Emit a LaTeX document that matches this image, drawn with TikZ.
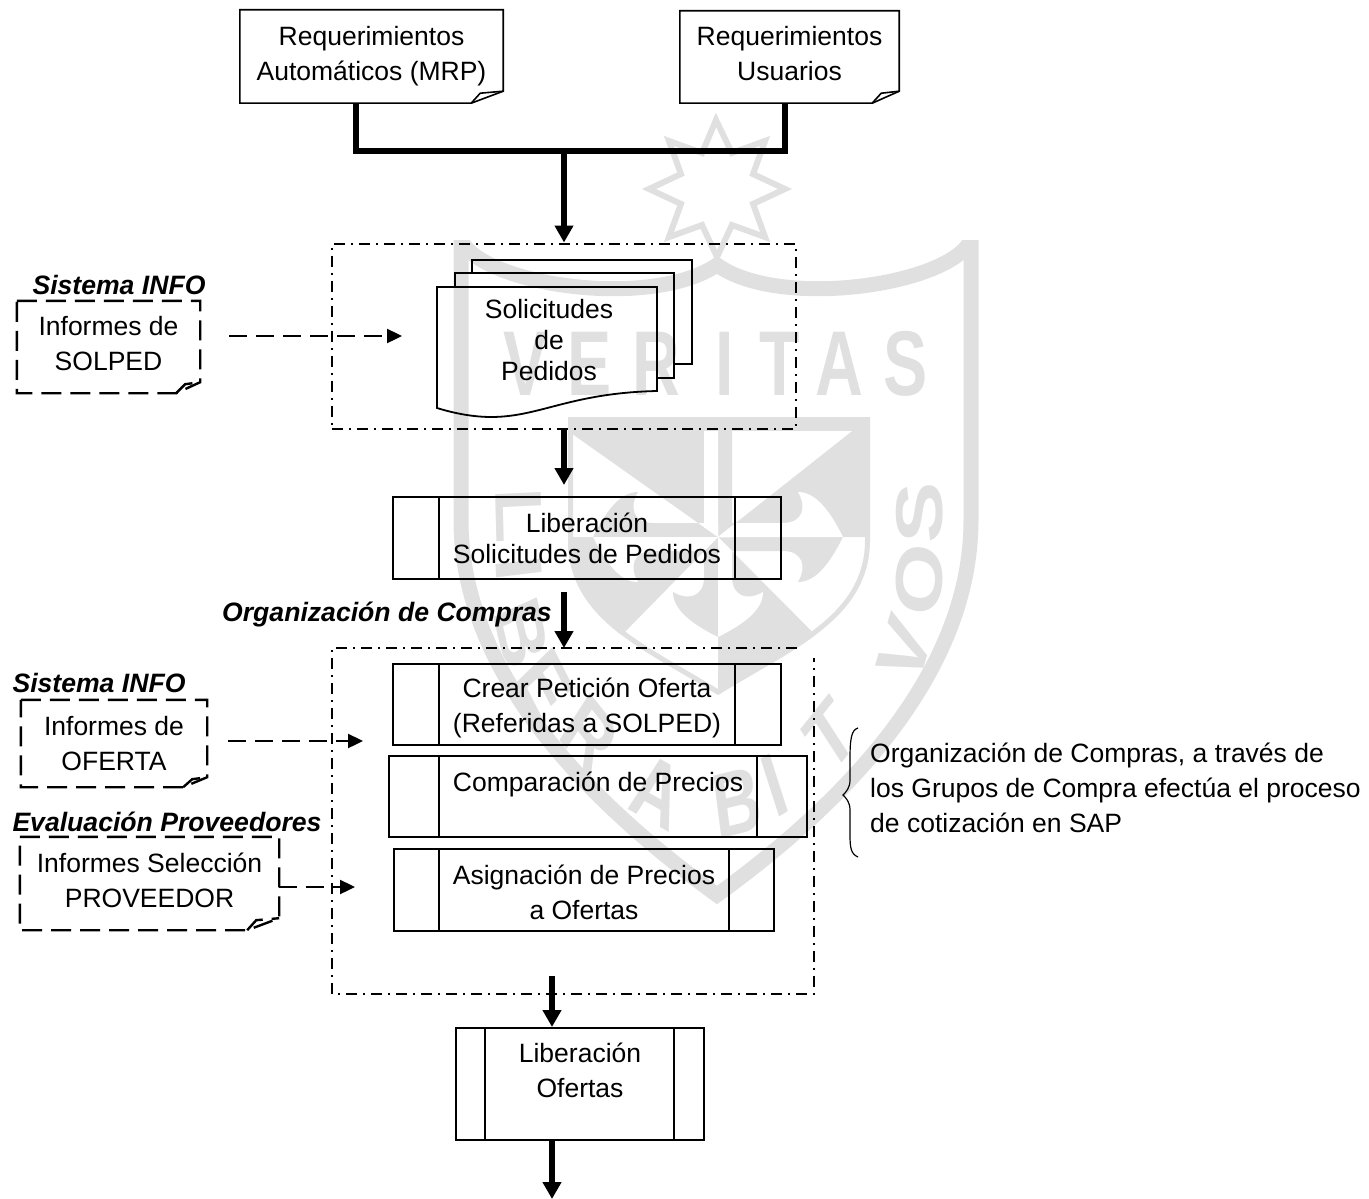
\documentclass[tikz,border=0pt]{standalone}
\usepackage{fontspec}
\setmainfont{Liberation Sans}
\usetikzlibrary{arrows.meta}
\definecolor{marca}{gray}{0.88}
\tikzset{
    textbox/.style={align=center,inner sep=0pt,font=\fontsize{26.5}{35}\selectfont},
    procbox/.style={textbox,draw,line width=2pt},
    titulo/.style={inner sep=0pt,font=\fontsize{26.6}{30}\selectfont\bfseries\itshape},
    letra/.style={marca,inner sep=0pt,font=\fontsize{92}{92}\selectfont\bfseries,xscale=.72},
    mainline/.style={line width=5.5pt,-{Triangle[length=17pt,width=18pt]}},
    dasharrow/.style={line width=2.4pt,dash pattern=on 18pt off 9pt,-{Triangle[length=15pt,width=14pt]}},
    dashdot/.style={line width=2pt,dash pattern=on 11pt off 6pt on 2pt off 6pt},
    docdash/.style={line width=2.4pt,dash pattern=on 20pt off 9pt}
}
% outline of a document with folded corner
\newcommand{\docoutline}[4][]{
    \draw[line width=1.6pt,#1] (#2.north west) -- (#2.north east) -- ([yshift=#4]#2.south east) -- ([xshift=-#3]#2.south east) -- (#2.south west) -- cycle;
    \draw[line width=1.6pt,#1] ([xshift=-#3]#2.south east) -- ([xshift=-#3+9,yshift=#4-2]#2.south east) -- ([yshift=#4]#2.south east);
}
% inner bars of a process box
\newcommand{\procbars}[3]{
    \draw[line width=2pt] ([xshift=#2]#1.north west) -- ([xshift=#2]#1.south west);
    \draw[line width=2pt] ([xshift=-#3]#1.north east) -- ([xshift=-#3]#1.south east);
}
% the four arms of the cross in the mark
\newcommand{\fleurcross}[1]{
    \foreach \rr/\dd in {0/100,90/125,180/178,270/125}
        \fill[#1,shift={(718,537)},rotate=\rr] (0,\dd) .. controls (-28,\dd-14) and (-45,\dd-28) .. (-45,\dd-45) .. controls (-30,\dd-36) and (-14,\dd-40) .. (-14,\dd-60) -- (-14,0) -- (14,0) -- (14,\dd-60) .. controls (14,\dd-40) and (30,\dd-36) .. (45,\dd-45) .. controls (45,\dd-28) and (28,\dd-14) .. (0,\dd) -- cycle;
}
\begin{document}
\begin{tikzpicture}[x=1pt,y=-1pt]
            \useasboundingbox (0,0) rectangle (1369,1199);
            % background mark
            \draw[marca,line width=6pt,line join=miter] (716,120) \foreach \a in {-67.5,-45,...,247.5} {-- ({717+(mod(\a+90,45)==0 ? 68 : 39)*cos(\a)},{189+(mod(\a+90,45)==0 ? 68 : 39)*sin(\a)})} -- cycle;
            \begin{scope}
                \clip (0,240) rectangle (1369,1199);
                \draw[marca,line width=15pt] (971,230) -- (971,240) .. controls (950,285) and (780,310) .. (717,265) .. controls (650,310) and (482,285) .. (461,240) -- (461,520) .. controls (461,680) and (600,810) .. (717,895) .. controls (834,810) and (971,680) .. (971,520) -- (971,240);
                \draw[marca,line width=15pt] (461,230) -- (461,250);
            \end{scope}
            \begin{scope}
                \clip (568,417) -- (870,417) -- (870,540) .. controls (870,620) and (790,650) .. (718,695) .. controls (646,650) and (568,620) .. (568,540) -- cycle;
                \fill[marca] (568,417) rectangle (870,431);
                \fill[marca] (568,431) -- (718,431) -- (718,537) -- cycle;
                \fill[marca] (870,417) -- (870,537) -- (718,537) -- cycle;
                \fill[marca] (718,537) -- (870,690) -- (718,700) -- cycle;
                \fill[marca] (568,690) -- (568,537) -- (718,537) -- cycle;
                \fleurcross{marca}
                \begin{scope}
                    \clip (568,431) -- (718,431) -- (718,537) -- cycle (870,417) -- (870,537) -- (718,537) -- cycle (718,537) -- (870,690) -- (718,700) -- cycle (568,690) -- (568,537) -- (718,537) -- cycle;
                    \fleurcross{white}
                \end{scope}
                \draw[marca,line width=10pt] (568,417) -- (870,417) -- (870,540) .. controls (870,620) and (790,650) .. (718,695) .. controls (646,650) and (568,620) .. (568,540) -- cycle;
            \end{scope}
            \foreach \ch/\xx/\yy/\rr [count=\i] in {V/526/364/0,E/590/364/0,R/656/364/0,I/725/364/0,T/780/364/0,A/839/364/0,S/906/364/0,L/519/515/-88,I/519/568/-85,B/522/633/-72,E/545/685/-55,R/590/735/-42,A/657/792/-22,B/737/803/10,I/775/785/24,T/830/735/42,V/905/650/68,O/920/580/84,S/920/513/90}
                \node[letra,rotate=\rr] (marca\i) at (\xx,\yy) {\ch};

            % top documents
            \node[textbox,minimum width=263pt,minimum height=93pt] (reqauto) at (371.5,56.5) {Requerimientos\\Automáticos (MRP)};
            \node[textbox,text depth=7pt,minimum width=219pt,minimum height=92pt] (requsu) at (789.5,57) {Requerimientos\\Usuarios};
            \docoutline{reqauto}{32}{12}
            \docoutline{requsu}{27}{12}
            \coordinate (jleft) at (356,151);
            \coordinate (jright) at (785,151);
            \coordinate (jmid) at (564,151);
            \draw[line width=6.5pt] (jleft |- reqauto.south) -- (jleft) -- (jright) -- (jright |- requsu.south);

            % solicitudes
            \node[minimum width=464pt,minimum height=185pt,dashdot,draw] (solbox) at (564,336) {};
            \draw[mainline] (jmid) -- (solbox.north);
            \draw[line width=1.8pt] (472,273) -- (472,260) -- (692,260) -- (692,364) -- (674,364);
            \draw[line width=1.8pt] (455,287) -- (455,273) -- (674,273) -- (674,378) -- (657,378);
            \node[textbox,font=\fontsize{26.5}{31}\selectfont,minimum width=220pt] (solped) at (549,340) {Solicitudes\\de\\Pedidos};
            \draw[line width=1.8pt] (437,287) -- (657,287) -- (657,391) .. controls (570,393) and (540,417) .. (491,417) .. controls (470,417) and (450,412) .. (437,408) -- cycle;

            % informes
            \node[titulo] (tinfoa) at (119,285) {Sistema INFO};
            \node[textbox,text depth=7pt,minimum width=183pt,minimum height=92pt] (infsol) at (108.5,347) {Informes de\\SOLPED};
            \docoutline[docdash]{infsol}{24}{11}
            \coordinate (solA) at (229,336);
            \coordinate (solB) at (402,336);
            \draw[dasharrow] (solA) -- (solB);

            % liberacion
            \node[procbox,font=\fontsize{26.5}{31}\selectfont,minimum width=388pt,minimum height=82pt] (libsol) at (587,538) {Liberación\\Solicitudes de Pedidos};
            \procbars{libsol}{47}{47}
            \draw[mainline] (solbox.south) -- (solbox.south |- libsol.north) [shorten >=11pt];
            \coordinate (ofin) at (564,648);
            \draw[mainline] (ofin |- libsol.south) [shorten <=12pt] -- (ofin);
            \node[titulo,anchor=east] (torg) at (552,615) {Organización de Compras};

            % cotizacion
            \draw[dashdot] (797,648) -- (332,648) -- (332,994) -- (814,994) -- (814,658);
            \node[procbox,text height=62pt,minimum width=388pt,minimum height=81pt] (petof) at (587,704.5) {Crear Petición Oferta\\(Referidas a SOLPED)};
            \procbars{petof}{47}{47}
            \node[procbox,line width=1.6pt,text height=60pt,minimum width=418pt,minimum height=81pt] (compar) at (598,796.5) {Comparación de Precios\\\mbox{}};
            \procbars{compar}{51}{51}
            \node[procbox,text height=60pt,minimum width=380pt,minimum height=82pt] (asign) at (584,890) {Asignación de Precios\\a Ofertas};
            \procbars{asign}{46}{46}

            \node[titulo] (tinfob) at (99,683) {Sistema INFO};
            \node[textbox,minimum width=186pt,minimum height=87pt] (infof) at (114,743.5) {Informes de\\OFERTA};
            \docoutline[docdash]{infof}{24}{10}
            \coordinate (ofA) at (228,741);
            \coordinate (ofB) at (363,741);
            \draw[dasharrow] (ofA) -- (ofB);

            \node[titulo] (tevalu) at (167,822) {Evaluación Proveedores};
            \node[textbox,text depth=6pt,minimum width=259pt,minimum height=93pt] (infprov) at (149.5,883.5) {Informes Selección\\PROVEEDOR};
            \docoutline[docdash]{infprov}{32}{12}
            \coordinate (prA) at (infprov.east |- 0,887);
            \coordinate (prB) at (355,887);
            \draw[dasharrow] (prA) -- (prB);

            % llave y nota
            \draw[line width=1.2pt] (858,728) .. controls (851,730) and (850,740) .. (850,760) -- (850,780) .. controls (850,788) and (846,792) .. (843,795) .. controls (846,798) and (850,802) .. (850,810) -- (850,835) .. controls (850,848) and (851,854) .. (858,857);
            \node[textbox,align=left,anchor=west] (nota) at (870,788) {Organización de Compras, a través de\\los Grupos de Compra efectúa el proceso\\de cotización en SAP};

            % salida
            \coordinate (ofout) at (552,976);
            \node[procbox,text depth=27pt,minimum width=248pt,minimum height=112pt] (libof) at (580,1084) {Liberación\\Ofertas};
            \procbars{libof}{30}{31}
            \draw[mainline] (ofout) -- (ofout |- libof.north);
            \coordinate (fin) at (552,1199);
            \draw[mainline] (fin |- libof.south) -- (fin);
        \end{tikzpicture}
\end{document}
